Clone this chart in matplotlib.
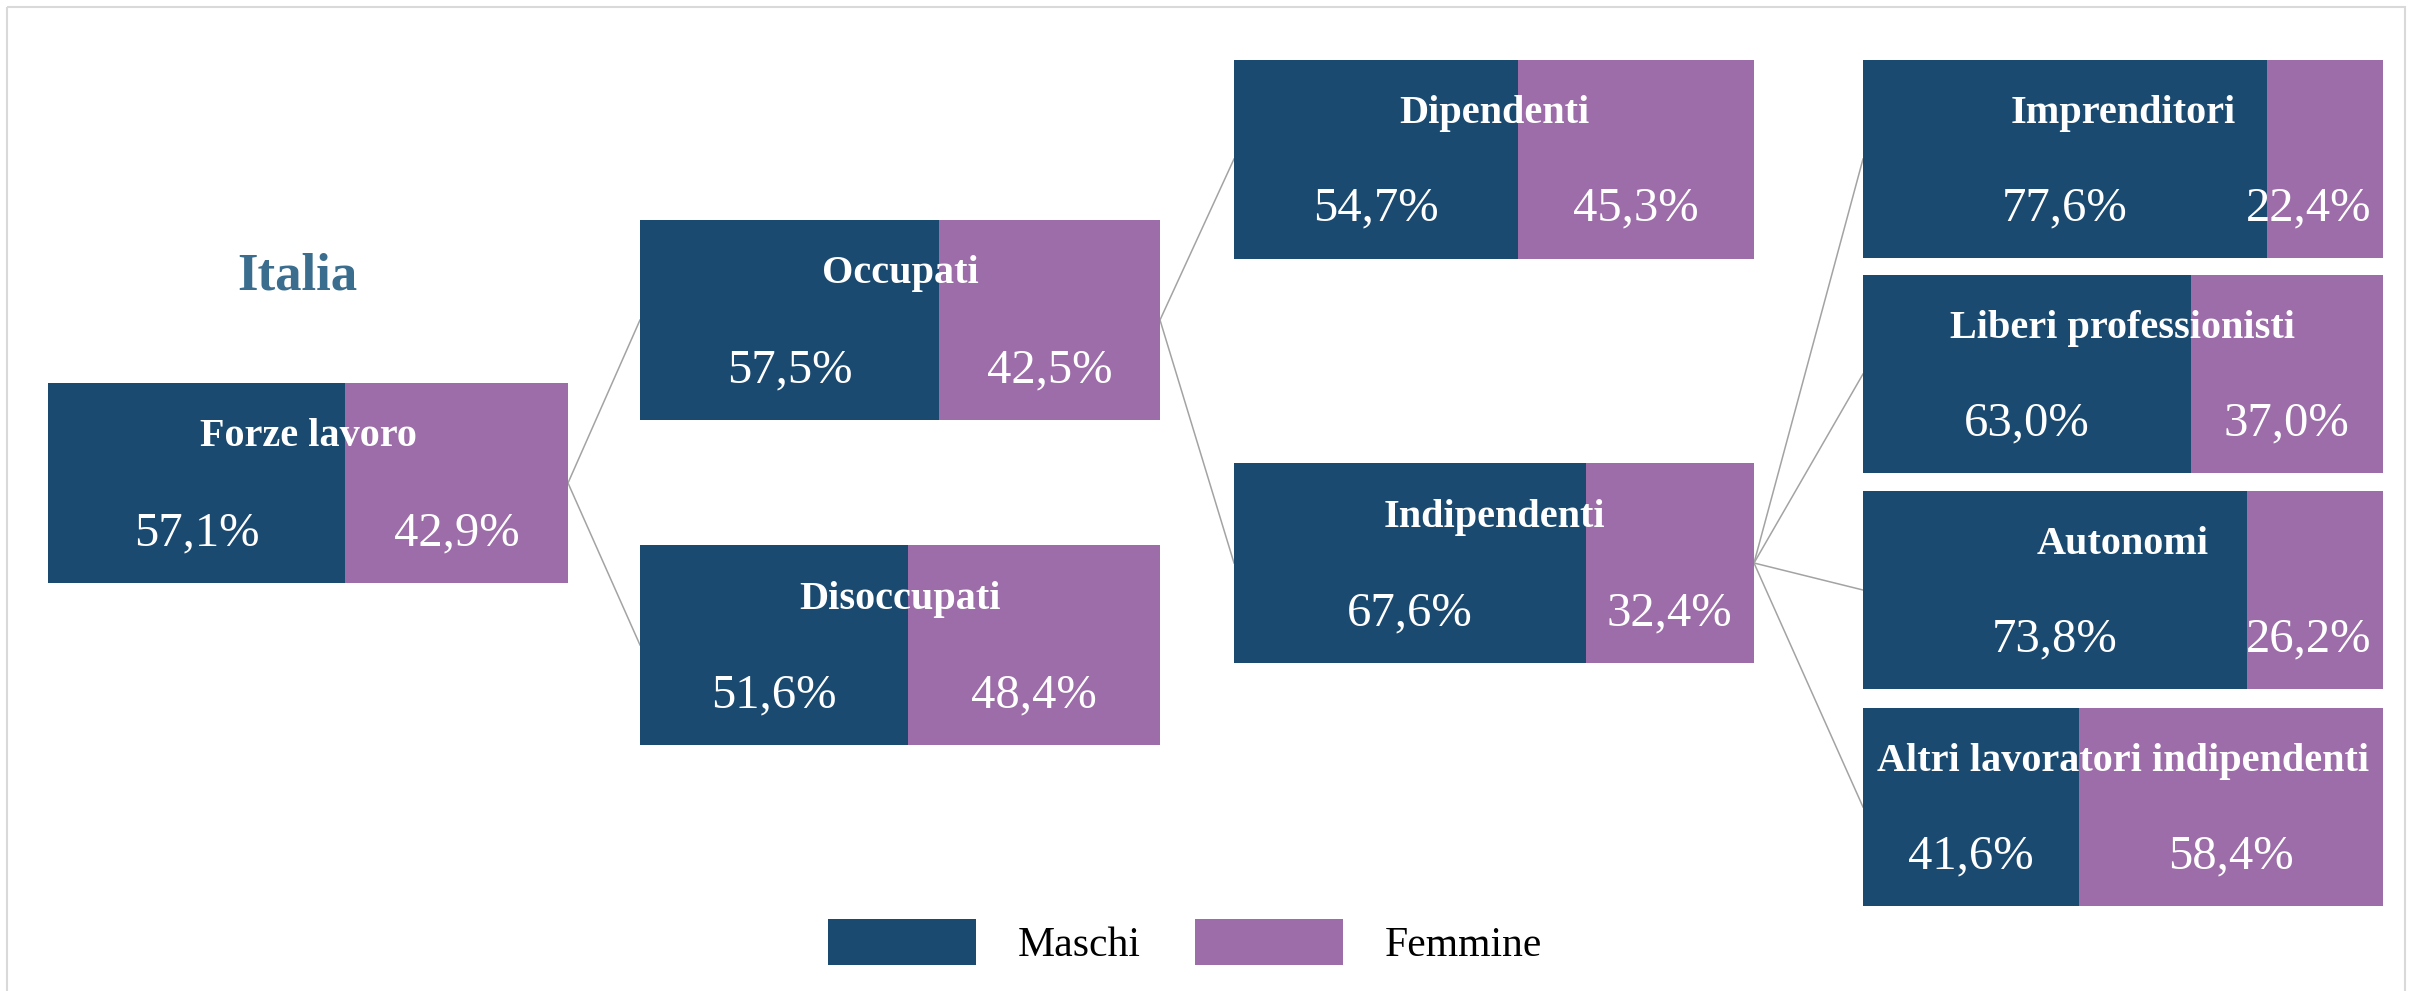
import numpy as np
import matplotlib
matplotlib.use("Agg")
from matplotlib import pyplot as plt
from matplotlib.patches import Rectangle

# Data: share of men / women for each node of the tree (Italia)
categories = ["Forze lavoro", "Occupati", "Disoccupati", "Dipendenti", "Indipendenti",
              "Imprenditori", "Liberi professionisti", "Autonomi", "Altri lavoratori indipendenti"]
maschi = [57.1, 57.5, 51.6, 54.7, 67.6, 77.6, 63.0, 73.8, 41.6]
femmine = [42.9, 42.5, 48.4, 45.3, 32.4, 22.4, 37.0, 26.2, 58.4]
parents = [None, 0, 0, 1, 1, 4, 4, 4, 4]  # index of parent node
levels = [0, 1, 1, 2, 2, 3, 3, 3, 3]
seriesNames = ["Maschi", "Femmine"]

# Layout (pixel units, y grows downwards)
W, H = 2412, 991
levelX = [48, 640, 1234, 1863]
boxW = 520
centersY = [483, 320, 645, 159, 563, 159, 374, 590, 807]
boxH = [200, 200, 200, 199, 200, 198, 198, 198, 198]

colMaschi = "#1B4A70"
colFemmine = "#9C6DA8"
serif = "Liberation Serif"

def fmtPct(v):
    return ("%.1f" % v).replace(".", ",") + "%"

fig = plt.figure(figsize=(W / 100, H / 100), dpi=100)
ax = fig.add_axes([0, 0, 1, 1])
ax.set_xlim(0, W)
ax.set_ylim(H, 0)
ax.axis("off")

# light outer frame
ax.add_patch(Rectangle((7, 7), W - 14, H + 10, fill=False, edgecolor="#d9d9d9", linewidth=1.5))

# connectors first so the boxes sit on top
for i in range(len(categories)):
    p = parents[i]
    if p is None:
        continue
    x0 = levelX[levels[p]] + boxW
    x1 = levelX[levels[i]]
    ax.plot([x0, x1], [centersY[p], centersY[i]], color="#a3a3a3", linewidth=1.1, zorder=1)

# stacked horizontal bars, one per node
lefts = np.array([levelX[l] for l in levels], dtype=float)
wM = np.array(maschi) / 100 * boxW
wF = np.array(femmine) / 100 * boxW
ax.barh(centersY, wM, left=lefts, height=boxH, color=colMaschi, label=seriesNames[0], zorder=2)
ax.barh(centersY, wF, left=lefts + wM, height=boxH, color=colFemmine, label=seriesNames[1], zorder=2)

pctTexts = []
for i in range(len(categories)):
    top = centersY[i] - boxH[i] / 2
    ax.text(lefts[i] + boxW / 2, top + 0.27 * boxH[i], categories[i], ha="center", va="center",
            color="white", fontsize=29, fontweight="bold", family=serif, zorder=3)
    tM = ax.text(lefts[i] + wM[i] / 2, top + 0.75 * boxH[i], fmtPct(maschi[i]), ha="center", va="center",
                 color="white", fontsize=35, family=serif, zorder=3)
    tF = ax.text(lefts[i] + wM[i] + wF[i] / 2, top + 0.75 * boxH[i], fmtPct(femmine[i]), ha="center",
                 va="center", color="white", fontsize=35, family=serif, zorder=3)
    pctTexts.append((tF, lefts[i] + boxW))

# title
ax.text(297, 277, "Italia", ha="center", va="center", color="#3B6E8E", fontsize=38,
        fontweight="bold", family=serif)

# legend
ax.legend(loc="center", bbox_to_anchor=(1185 / W, 1 - 942 / H), ncol=2, frameon=False,
          prop={"family": serif, "size": 30}, handlelength=3.55, handleheight=1.3,
          handletextpad=1.0, columnspacing=1.3)

# keep labels that would spill out inside the box
fig.canvas.draw()
r = fig.canvas.get_renderer()
for t, boxRight in pctTexts:
    bb = t.get_window_extent(r).transformed(ax.transData.inverted())
    if max(bb.x0, bb.x1) > boxRight - 10:
        t.set_ha("right")
        t.set_x(boxRight - 12)

fig.savefig("out.png", dpi=100)
